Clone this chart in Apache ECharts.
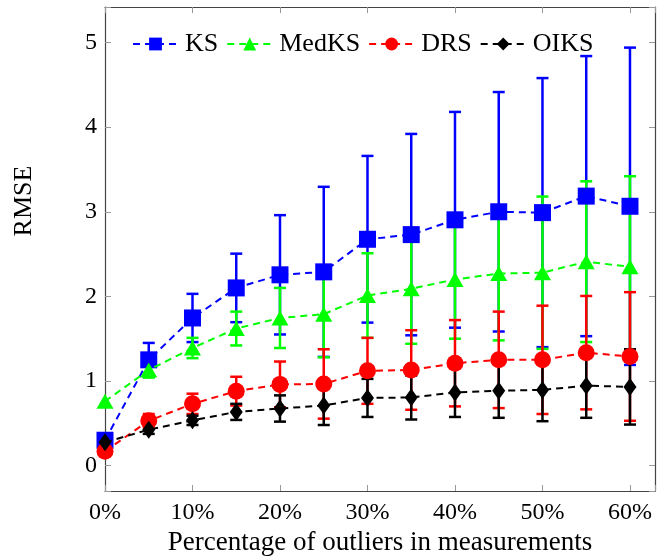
<!DOCTYPE html>
<html>
<head>
<meta charset="utf-8">
<script src="https://cdn.jsdelivr.net/npm/echarts@6/dist/echarts.min.js"></script>
<style>html,body{margin:0;padding:0;background:#fff}#c{width:667px;height:556px}</style>
</head>
<body>
<div id="c"></div>
<script>
const xPct = [0,5,10,15,20,25,30,35,40,45,50,55,60];
const xTicks = [0,10,20,30,40,50,60];
const ks = [0.30,1.25,1.745,2.10,2.255,2.29,2.675,2.73,2.905,3.0,2.99,3.185,3.065];
const ksErr = [0,0.20,0.285,0.405,0.705,1.005,0.985,1.19,1.275,1.415,1.59,1.655,1.875];
const med = [0.76,1.13,1.39,1.62,1.745,1.79,2.01,2.09,2.20,2.27,2.28,2.41,2.35];
const medErr = [0,0.09,0.12,0.20,0.355,0.51,0.50,0.65,0.70,0.79,0.90,0.95,1.07];
const drs = [0.17,0.53,0.73,0.88,0.96,0.965,1.12,1.13,1.21,1.25,1.25,1.335,1.29];
const drsErr = [0,0.08,0.12,0.17,0.27,0.41,0.39,0.47,0.51,0.57,0.64,0.67,0.76];
const oiks = [0.275,0.425,0.535,0.635,0.675,0.71,0.80,0.805,0.865,0.885,0.895,0.945,0.93];
const oiksErr = [0,0.05,0.055,0.095,0.155,0.23,0.225,0.26,0.29,0.32,0.37,0.38,0.445];
const names = ['KS','MedKS','DRS','OIKS'];
const colors = ['#0000ff','#00ff00','#ff0000','#000000'];
const symbols = ['rect','triangle','circle','diamond'];
const symSizes = [[17,17],[17,15],[17,17],[13,18]];
const means = [ks,med,drs,oiks];
const errs = [ksErr,medErr,drsErr,oiksErr];

const FONT = 'Liberation Serif';
const chart = echarts.init(document.getElementById('c'), null, {renderer:'canvas'});

function errSeries(i){
  return {
    type:'custom', name: names[i]+'_err', z: 2+i, silent:true,
    data: xPct.map((x,k)=>[x, means[i][k]-errs[i][k], means[i][k]+errs[i][k]]),
    encode:{x:0,y:[1,2]},
    renderItem:function(params, api){
      const x = api.value(0);
      const lo = api.coord([x, api.value(1)]);
      const hi = api.coord([x, api.value(2)]);
      if (Math.abs(lo[1]-hi[1]) < 1) return null;
      const w = 6;
      const st = {stroke: colors[i], lineWidth: 2.5};
      return {type:'group', children:[
        {type:'line', shape:{x1:lo[0],y1:lo[1],x2:hi[0],y2:hi[1]}, style:st},
        {type:'line', shape:{x1:lo[0]-w,y1:lo[1],x2:lo[0]+w,y2:lo[1]}, style:st},
        {type:'line', shape:{x1:hi[0]-w,y1:hi[1],x2:hi[0]+w,y2:hi[1]}, style:st}
      ]};
    }
  };
}
function lineSeries(i){
  return {
    type:'line', name:names[i], z: 10+i,
    data: xPct.map((x,k)=>[x, means[i][k]]),
    symbol: symbols[i], symbolSize: symSizes[i],
    showAllSymbol:true, clip:false,
    itemStyle:{color:colors[i], borderWidth:0},
    lineStyle:{color:colors[i], width:2, type:[7,5]},
    emphasis:{disabled:true}, animation:false
  };
}
const series = [];
for (let i=0;i<4;i++){ series.push(errSeries(i)); }
for (let i=0;i<4;i++){ series.push(lineSeries(i)); }

const frame = '#444444';
const tickC = '#999999';
chart.setOption({
  animation:false,
  backgroundColor:'#fff',
  textStyle:{fontFamily:FONT},
  grid:{left:105, right:12, top:7, bottom:65, show:false, containLabel:false, outerBoundsMode:'none'},
  legend:{
    data: names.map((n,i)=>({name:n})),
    left:127, top:26, itemWidth:45, itemHeight:16, itemGap:8,
    textStyle:{fontFamily:FONT, fontSize:26, color:'#000', padding:[0,0,0,2]},
    selectedMode:false
  },
  graphic:[{
    type:'text', x:24, y:201, rotation:Math.PI/2,
    style:{text:'RMSE', font:'26px "Liberation Serif"', fill:'#000', textAlign:'center', textVerticalAlign:'middle'}
  }],
  xAxis:[{
    type:'value', min:0, max:62.86, interval:10, position:'bottom',
    name:'Percentage of outliers in measurements', nameLocation:'middle', nameGap:36,
    nameTextStyle:{fontFamily:FONT, fontSize:27, color:'#000'},
    axisLine:{show:true, onZero:false, lineStyle:{color:frame, width:1.2}},
    axisTick:{show:true, inside:true, length:6, lineStyle:{color:tickC, width:1}},
    axisLabel:{fontFamily:FONT, fontSize:24, color:'#000', margin:10,
      formatter:v=> (xTicks.indexOf(Math.round(v*100)/100)>=0 ? v+'%' : '')},
    splitLine:{show:false}
  },{
    type:'value', min:0, max:62.86, interval:10, position:'top',
    axisLine:{show:true, onZero:false, lineStyle:{color:frame, width:1.2}},
    axisTick:{show:true, inside:true, length:6, lineStyle:{color:tickC, width:1}},
    axisLabel:{show:false}, splitLine:{show:false}
  }],
  yAxis:[{
    type:'value', min:-0.3, max:5.42, position:'left',
    axisLine:{show:true, onZero:false, lineStyle:{color:frame, width:1.2}},
    axisTick:{show:true, inside:true, length:6, lineStyle:{color:tickC, width:1}},
    axisLabel:{fontFamily:FONT, fontSize:24, color:'#000', margin:8,
      formatter:v=> (Math.abs(v-Math.round(v))<1e-6 ? String(Math.round(v)) : '')},
    splitLine:{show:false}
  },{
    type:'value', min:-0.3, max:5.42, position:'right',
    axisLine:{show:true, onZero:false, lineStyle:{color:frame, width:1.2}},
    axisTick:{show:true, inside:true, length:6, lineStyle:{color:tickC, width:1}},
    axisLabel:{show:false}, splitLine:{show:false}
  }],
  series: series
});
</script>
</body>
</html>
